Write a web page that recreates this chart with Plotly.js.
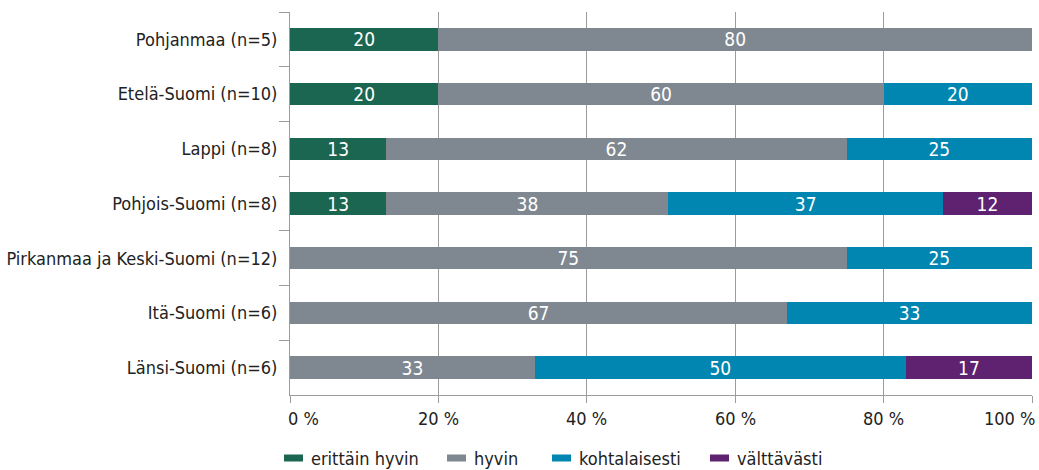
<!DOCTYPE html>
<html>
<head>
<meta charset="utf-8">
<script src="https://cdn.plot.ly/plotly-3.0.1.min.js"></script>
<style>html,body{margin:0;padding:0;background:#fff;}#chart{width:1039px;height:470px;}</style>
</head>
<body>
<div id="chart"></div>
<script>
const categories = ["Pohjanmaa (n=5)", "Etelä-Suomi (n=10)", "Lappi (n=8)", "Pohjois-Suomi (n=8)", "Pirkanmaa ja Keski-Suomi (n=12)", "Itä-Suomi (n=6)", "Länsi-Suomi (n=6)"];
const seriesNames = ["erittäin hyvin", "hyvin", "kohtalaisesti", "välttävästi"];
const erittainHyvin = [20, 20, 13, 13, 0, 0, 0];
const hyvin = [80, 60, 62, 38, 75, 67, 33];
const kohtalaisesti = [0, 20, 25, 37, 25, 33, 50];
const valttavasti = [0, 0, 0, 12, 0, 0, 17];
const colors = ["#1b6650", "#7f8890", "#0086b0", "#5e2270"];
const tickVals = [0, 20, 40, 60, 80, 100];
const tickText = ["0 %", "20 %", "40 %", "60 %", "80 %", "100 %"];

const FONT = '"DejaVu Sans Condensed", "Liberation Sans Narrow", sans-serif';
const TEXT = '#222';
const GRID = '#9c9c9c';

// plot geometry (pixels) for placing the custom legend
const W = 1039, H = 470, M = {l: 290, r: 7, t: 12, b: 75};
const plotW = W - M.l - M.r, plotH = H - M.t - M.b;
const toPaperX = px => (px - M.l) / plotW;
const toPaperY = py => (H - M.b - py) / plotH;
const legendLeft = [284, 447, 552, 710];
const legendMidY = 458;

const data = [erittainHyvin, hyvin, kohtalaisesti, valttavasti].map((vals, i) => ({
  type: 'bar',
  orientation: 'h',
  name: seriesNames[i],
  y: categories,
  x: vals,
  marker: {color: colors[i], line: {width: 0}},
  text: vals.map(v => v > 0 ? String(v) : ''),
  textposition: 'inside',
  textangle: 0,
  insidetextanchor: 'middle',
  constraintext: 'none',
  textfont: {color: '#ffffff', size: 19, family: FONT},
  hoverinfo: 'x+name',
  showlegend: false
}));

const annotations = [];
const shapes = [];
tickVals.forEach((v, i) => {
  annotations.push({
    x: v, xref: 'x', y: 0, yref: 'paper', yanchor: 'top', yshift: -11,
    xanchor: i === 0 ? 'left' : (i === tickVals.length - 1 ? 'right' : 'center'),
    xshift: i === 0 ? -4 : (i === tickVals.length - 1 ? 5 : 0),
    text: tickText[i], showarrow: false,
    font: {size: 18, family: FONT, color: TEXT}
  });
});
seriesNames.forEach((name, i) => {
  const x0 = legendLeft[i];
  shapes.push({
    type: 'rect', xref: 'paper', yref: 'paper',
    x0: toPaperX(x0), x1: toPaperX(x0 + 19),
    y0: toPaperY(legendMidY + 3.5), y1: toPaperY(legendMidY - 3.5),
    fillcolor: colors[i], line: {width: 0}
  });
  annotations.push({
    x: toPaperX(x0 + 25), xref: 'paper', y: toPaperY(legendMidY), yref: 'paper',
    xanchor: 'left', yanchor: 'middle', text: name, showarrow: false,
    font: {size: 18, family: FONT, color: TEXT}
  });
});

const layout = {
  width: W, height: H,
  margin: M,
  barmode: 'stack',
  bargap: 0.59,
  paper_bgcolor: '#fff', plot_bgcolor: '#fff',
  font: {family: FONT, color: TEXT, size: 18},
  xaxis: {
    range: [0, 100],
    tickvals: tickVals, ticktext: tickText,
    showticklabels: false,
    showgrid: true, gridcolor: GRID, gridwidth: 1,
    showline: true, linecolor: GRID, linewidth: 1,
    ticks: 'outside', ticklen: 7, tickcolor: GRID,
    zeroline: false, fixedrange: true
  },
  yaxis: {
    type: 'category',
    autorange: 'reversed',
    showline: true, linecolor: GRID, linewidth: 1,
    ticks: 'outside', tickson: 'boundaries', ticklen: 10, tickcolor: GRID,
    tickfont: {size: 18, family: FONT, color: TEXT},
    ticklabelstandoff: 8,
    showgrid: false, zeroline: false, fixedrange: true
  },
  showlegend: false,
  annotations: annotations,
  shapes: shapes
};
Plotly.newPlot('chart', data, layout, {displayModeBar: false, staticPlot: true});
</script>
</body>
</html>
